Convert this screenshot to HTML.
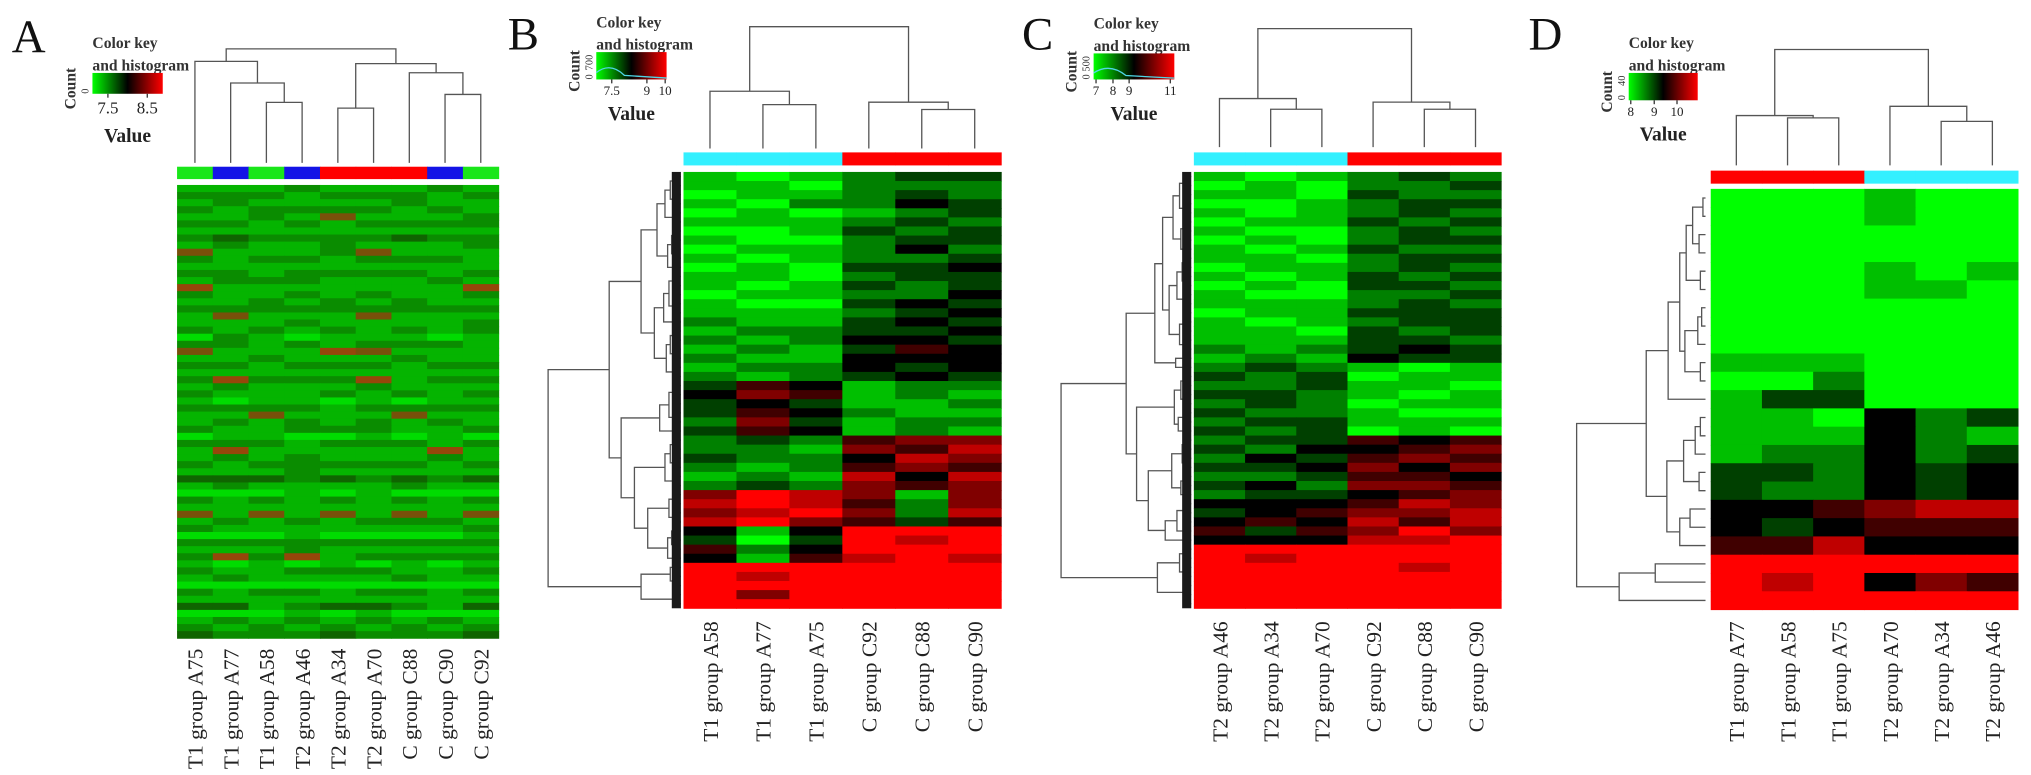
<!DOCTYPE html>
<html><head><meta charset="utf-8">
<style>
html,body{margin:0;padding:0;background:#fff;}
svg{display:block;font-family:"Liberation Serif",serif;}
</style></head>
<body>
<svg id="fig" xmlns="http://www.w3.org/2000/svg" width="2031" height="775" viewBox="0 0 1560 595" preserveAspectRatio="none">
<defs>
<linearGradient id="gk" x1="0" x2="1" y1="0" y2="0">
<stop offset="0" stop-color="#00ff00"/><stop offset="0.5" stop-color="#000"/><stop offset="1" stop-color="#ff0000"/>
</linearGradient>
</defs>
<g id="root"></g>
</svg>
<script>
// ---------- DATA ----------
// digit codes 0..8 : 0 = bright green (low), 4 = black, 8 = red (high)
const colsA = ["T1 group A75","T1 group A77","T1 group A58","T2 group A46","T2 group A34","T2 group A70","C group C88","C group C90","C group C92"];
const groupsA = ["g","b","g","b","r","r","r","b","g"];
const rowsA = ["111211121","222122212","121111211","212222121","112151112","221212222","111111111","232222322","121121112","511125111","212212221","111111111","221222212","122211121","611111116","211212112","112121211","222222222","151115111","111211112","212121212","021011101","221212221","511165111","112111211","221222122","111111111","262226122","121112111","211121212","101101011","222212222","115111511","121212121","211222112","011001010","222122212","161111161","121211121","212222212","111211111","333232323","121111211","000101000","212121212","111111111","515151515","121212221","211111112","000100001","222222222","111211111","262612222","101010101","211222112","121111211","000000000","212212212","111111111","331233213","000101000","121212121","212121212","322232223"];
const treeA = [1,[0.89,0,[0.7,1,[0.53,2,3]]],[0.87,[0.48,4,5],[0.79,6,[0.6,7,8]]]];

const colsB = ["T1 group A58","T1 group A77","T1 group A75","C group C92","C group C88","C group C90"];
const groupsB = ["c","c","c","r","r","r"];
const rowsB = ["101233","110222","011232","102243","010123","111232","001323","100233","011242","101223","010334","110233","101323","011224","100343","111234","211343","122334","212443","121354","211444","122434","212343","354122","465121","343112","354211","263122","354121","232566","221657","322476","212565","121747","232656","687616","787526","678627","786535","414888","303878","524888","415787","888888","878888","888888","868888","888888"];
const treeB = [1,[0.47,0,[0.36,1,2]],[0.38,3,[0.32,4,5]]];
const gapsB = [0.04,0.08,0.03,0.12,0.05,0.18,0.04,0.07,0.03,0.1,0.3,0.05,0.09,0.04,0.06,0.13,0.2,0.04,0.08,0.03,0.11,0.05,0.54,0.06,0.03,0.09,0.04,0.16,0.45,0.05,0.08,0.03,0.12,0.06,0.35,0.04,0.09,0.05,0.25,0.07,0.03,0.1,1.0,0.08,0.04,0.3,0.06];

const colsC = ["T2 group A46","T2 group A34","T2 group A70","C group C92","C group C88","C group C90"];
const groupsC = ["c","c","c","r","r","r"];
const rowsC = ["101232","010223","110322","001233","101232","011323","100232","010233","101322","110233","011232","101323","010332","100223","111232","011333","101233","110323","111332","212343","121433","232101","323011","223110","332101","232011","322100","233111","323010","233545","324456","243565","334646","223554","342665","233456","444576","345667","454757","535686","444778","888888","878888","888878","888888","888888","888888","888888"];
const treeC = [1,[0.41,0,[0.32,1,2]],[0.38,3,[0.32,4,5]]];
const gapsC = [0.05,0.03,0.09,0.04,0.14,0.06,0.03,0.08,0.22,0.04,0.07,0.03,0.11,0.05,0.17,0.04,0.06,0.09,0.03,0.28,0.12,0.5,0.05,0.08,0.04,0.13,0.06,0.1,0.42,0.04,0.07,0.05,0.15,0.03,0.08,0.33,0.06,0.04,0.11,0.2,1.0,0.05,0.09,0.04,0.26,0.06,0.03];

const colsD = ["T1 group A77","T1 group A58","T1 group A75","T2 group A70","T2 group A34","T2 group A46"];
const groupsD = ["r","r","r","c","c","c"];
const rowsD = ["000100","000100","000000","000000","000101","000110","000000","000000","000000","111000","002000","133000","110423","111421","122423","332434","322434","445677","434555","557444","888888","878465","888888"];
const treeD = [1,[0.43,0,[0.41,1,2]],[0.51,3,[0.38,4,5]]];
const rowTreeD = [1,[0.46,[0.29,[0.2,[0.15,[0.1,[0.02,0,1],[0.05,2,3]],[0.04,4,5]],[0.16,[0.06,[0.03,6,7],8],[0.04,9,10]]],11],[0.3,[0.17,[0.08,[0.04,12,13],14],[0.05,15,16]],[0.2,[0.12,17,18],19]]],[0.67,[0.39,20,21],22]];

const keyTicksA = ["7.5","8.5"], keyTicksB = ["7.5","9","10"], keyTicksC = ["7","8","9","11"], keyTicksD = ["8","9","10"];
const keyMaxB = "700", keyMaxC = "500", keyMaxD = "40";

// ---------- HELPERS ----------
const NS = "http://www.w3.org/2000/svg";
const root = document.getElementById("root");
function mk(tag, attrs, parent){
  const e = document.createElementNS(NS, tag);
  for (const k in attrs) e.setAttribute(k, attrs[k]);
  (parent||root).appendChild(e);
  return e;
}
function col(d){
  const v = (d-4)/4;
  if (v < 0) return "rgb(0," + Math.round(-v*255) + ",0)";
  return "rgb(" + Math.round(v*255) + ",0,0)";
}
// panel A image is blurred: reddish rows appear olive/brown
function colSoft(d){
  const v = (d-4)/4;
  if (v < 0) return "rgb(" + Math.round(20*(1+v)) + "," + Math.round(60 + (-v)*160) + ",0)";
  return "rgb(" + Math.round(90 + v*120) + "," + Math.round(90 - v*40) + ",10)";
}
const gcol = {g:"#19e619", b:"#1414e6", r:"#ff0000", c:"#33f0ff"};

function treeFromGaps(gaps, lo, hi){
  if (lo === hi) return lo;
  let m = lo, best = -1;
  for (let i = lo; i < hi; i++) if (gaps[i] > best){ best = gaps[i]; m = i; }
  return [best, treeFromGaps(gaps, lo, m), treeFromGaps(gaps, m+1, hi)];
}
function drawTree(node, leafPos, hToCoord, vertical, g){
  if (typeof node === "number") return {pos: leafPos(node), h: 0};
  const a = drawTree(node[1], leafPos, hToCoord, vertical, g);
  const b = drawTree(node[2], leafPos, hToCoord, vertical, g);
  const H = hToCoord(node[0]), ha = hToCoord(a.h), hb = hToCoord(b.h);
  let d;
  if (vertical) d = "M"+a.pos+","+ha+"V"+H+"H"+b.pos+"V"+hb;
  else d = "M"+ha+","+a.pos+"H"+H+"V"+b.pos+"H"+hb;
  const p = mk("path", {d:d, fill:"none", stroke:"#555", "stroke-width":"1"}, g);
  
  
  return {pos:(a.pos+b.pos)/2, h: node[0]};
}

function panel(cfg){
  const g = mk("g", {});
  
  
  const nc = cfg.cols.length, nr = cfg.rows.length;
  const cw = (cfg.x1-cfg.x0)/nc, rh = (cfg.y1-cfg.y0)/nr;
  const cf = cfg.soft ? colSoft : col;
  const L = mk("text", {x:cfg.lx, y:cfg.ly, "font-size":"36", fill:"#111"}, g);
  L.textContent = cfg.id;
  
  
  const hm = mk("g", {}, g);
  
  
  for (let r = 0; r < nr; r++) for (let c = 0; c < nc; c++){
    const cell = mk("rect", {x:(cfg.x0+c*cw).toFixed(2), y:(cfg.y0+r*rh).toFixed(2), width:(cw+0.4).toFixed(2), height:(rh+0.4).toFixed(2), fill:cf(+cfg.rows[r][c])}, hm);
    
    
  }
  for (let c = 0; c < nc; c++){
    const b = mk("rect", {x:(cfg.x0+c*cw).toFixed(2), y:cfg.cb0, width:(cw+0.4).toFixed(2), height:cfg.cb1-cfg.cb0, fill:gcol[cfg.groups[c]]}, g);
    
    
  }
  const cd = mk("g", {}, g);
  
  
  drawTree(cfg.tree, i => cfg.x0 + (i+0.5)*cw, h => cfg.dLeaf - h*(cfg.dLeaf-cfg.dTop), true, cd);
  if (cfg.rowTree){
    const rd = mk("g", {}, g);
    
    
    drawTree(cfg.rowTree, i => cfg.y0 + (i+0.5)*rh, h => cfg.rLeaf - h*(cfg.rLeaf-cfg.rRoot), false, rd);
    if (cfg.fringe){
      const fr = mk("rect", {x:cfg.rLeaf-cfg.fringe, y:cfg.y0, width:cfg.fringe, height:cfg.y1-cfg.y0, fill:"#1a1a1a"}, rd);
      
      
    }
  }
  for (let c = 0; c < nc; c++){
    const cx = cfg.x0 + (c+0.5)*cw + 6;
    const t = mk("text", {x:cx, y:cfg.labY, "font-size":"16.5", fill:"#222", "text-anchor":"end", transform:"rotate(-90 "+cx+" "+cfg.labY+")"}, g);
    t.textContent = cfg.cols[c];
    
    
  }
  const k = cfg.key;
  const kg = mk("g", {}, g);
  
  
  const t1 = mk("text", {x:k.x, y:k.y-19, "font-size":"12", "font-weight":"bold", fill:"#333"}, kg);
  t1.textContent = "Color key";
  
  
  const t2 = mk("text", {x:k.x, y:k.y-2, "font-size":"12", "font-weight":"bold", fill:"#333"}, kg);
  t2.textContent = "and histogram";
  
  
  const box = mk("rect", {x:k.x, y:k.y, width:k.w, height:k.h, fill:"url(#gk)"}, kg);
  
  
  if (k.hist){
    const hp = mk("path", {d:"M"+k.x+","+(k.y+k.h*0.75)+" Q"+(k.x+k.w*0.2)+","+(k.y+k.h*0.35)+" "+(k.x+k.w*0.4)+","+(k.y+k.h*0.85)+" L"+(k.x+k.w)+","+(k.y+k.h*0.95), fill:"none", stroke:"#4fd6e6", "stroke-width":"1"}, kg);
    
    
  }
  for (let i = 0; i < k.ticks.length; i++){
    const tx = k.x + k.tpos[i]*k.w;
    const tk = mk("line", {x1:tx, x2:tx, y1:k.y+k.h, y2:k.y+k.h+3, stroke:"#333", "stroke-width":"1"}, kg);
    
    
    const tl = mk("text", {x:tx, y:k.y+k.h+k.tfs+2, "font-size":k.tfs, "text-anchor":"middle", fill:"#222"}, kg);
    tl.textContent = k.ticks[i];
    
    
  }
  const vl = mk("text", {x:k.x+k.w/2, y:k.vy, "font-size":"15", "font-weight":"bold", "text-anchor":"middle", fill:"#222"}, kg);
  vl.textContent = "Value";
  
  
  const cxp = k.x - 13, cyp = k.y + k.h/2 + 4;
  const cl = mk("text", {x:cxp, y:cyp, "font-size":"12", "font-weight":"bold", "text-anchor":"middle", fill:"#333", transform:"rotate(-90 "+cxp+" "+cyp+")"}, kg);
  cl.textContent = "Count";
  
  
  const zx = k.x - 3, zy = k.y + k.h;
  const zl = mk("text", {x:zx, y:zy, "font-size":"8", "text-anchor":"start", fill:"#333", transform:"rotate(-90 "+zx+" "+zy+")"}, kg);
  zl.textContent = "0";
  
  
  if (k.max){
    const my = k.y + 2;
    const ml = mk("text", {x:zx, y:my, "font-size":"8", "text-anchor":"end", fill:"#333", transform:"rotate(-90 "+zx+" "+my+")"}, kg);
    ml.textContent = k.max;
    
    
  }
}

panel({id:"A", lx:9, ly:40, cols:colsA, groups:groupsA, rows:rowsA, tree:treeA, soft:true,
  x0:136, x1:383, y0:142, y1:490, cb0:128, cb1:137.5, dLeaf:125, dTop:37.5, labY:498,
  key:{x:71, y:56, w:54, h:16, ticks:keyTicksA, tpos:[0.22,0.78], tfs:13, vy:109, hist:false}});

panel({id:"B", lx:390, ly:38, cols:colsB, groups:groupsB, rows:rowsB, tree:treeB,
  rowTree:treeFromGaps(gapsB, 0, rowsB.length-1), rLeaf:523, rRoot:421, fringe:7,
  x0:525, x1:769, y0:132, y1:467, cb0:117, cb1:127, dLeaf:114, dTop:20.5, labY:477,
  key:{x:458, y:40, w:54, h:21, ticks:keyTicksB, tpos:[0.22,0.72,0.98], tfs:10, vy:92, hist:true, max:keyMaxB}});

panel({id:"C", lx:785, ly:38, cols:colsC, groups:groupsC, rows:rowsC, tree:treeC,
  rowTree:treeFromGaps(gapsC, 0, rowsC.length-1), rLeaf:915, rRoot:815, fringe:7,
  x0:917, x1:1153, y0:132, y1:467, cb0:117, cb1:127, dLeaf:113, dTop:22, labY:477,
  key:{x:840, y:41, w:62, h:20, ticks:keyTicksC, tpos:[0.03,0.24,0.44,0.95], tfs:10, vy:92, hist:true, max:keyMaxC}});

panel({id:"D", lx:1174, ly:38, cols:colsD, groups:groupsD, rows:rowsD, tree:treeD,
  rowTree:rowTreeD, rLeaf:1310, rRoot:1211, fringe:0,
  x0:1314, x1:1550, y0:145, y1:468, cb0:131, cb1:141, dLeaf:127, dTop:38, labY:477,
  key:{x:1251, y:56, w:53, h:21, ticks:keyTicksD, tpos:[0.03,0.37,0.7], tfs:10, vy:108, hist:false, max:keyMaxD}});
</script>
</body></html>
